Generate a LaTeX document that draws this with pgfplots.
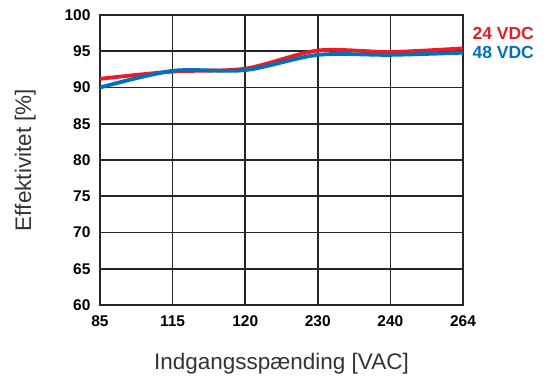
\documentclass[border=0pt]{standalone}
\usepackage{pgfplots}
\pgfplotsset{compat=1.18}
\usepackage{fontspec}
\setmainfont{Liberation Sans}
\usetikzlibrary{calc}
\definecolor{cred}{RGB}{237,28,36}
\definecolor{cblue}{RGB}{0,114,188}
\begin{document}
\begin{tikzpicture}
\begin{axis}[
  name=ax,
  scale only axis,
  width=363pt, height=290pt,
  xmin=0, xmax=5, ymin=60, ymax=100,
  xtick={0,1,2,3,4,5},
  xticklabels={85,115,120,230,240,264},
  ytick={60,65,...,100},
  grid=major,
  grid style={black!85, line width=1.6pt},
  axis line style={black!85, line width=1.8pt},
  major tick length=0pt,
  /pgf/number format/assume math mode=true,
  ticklabel style={font=\fontsize{15.5}{17}\selectfont\bfseries},
  xticklabel style={yshift=-7pt},
  yticklabel style={xshift=-6pt},
  xlabel={Indgangsspænding [VAC]},
  ylabel={Effektivitet [\%]},
  label style={font=\fontsize{22.5}{25}\selectfont, text=black!80},
  xlabel style={yshift=-20pt},
  ylabel style={yshift=22pt},
  clip=false,
]
\addplot[cred, line width=3.8pt, smooth, tension=0.5] coordinates {
  (0,91.2) (1,92.2) (2,92.6) (3,95.1) (4,94.9) (5,95.4)
};
\addplot[cblue, line width=3.8pt, smooth, tension=0.5] coordinates {
  (0,90.0) (1,92.3) (2,92.4) (3,94.5) (4,94.5) (5,94.8)
};
\node[anchor=west, xshift=6pt, text=cred, font=\fontsize{17.5}{19}\selectfont\bfseries] at (axis cs:5,97.4) {24 VDC};
\node[anchor=west, xshift=6pt, text=cblue, font=\fontsize{17.5}{19}\selectfont\bfseries] at (axis cs:5,94.9) {48 VDC};
\end{axis}
\path ($(ax.south west)+(-100pt,-78pt)$) rectangle ($(ax.north east)+(87pt,15pt)$);
\end{tikzpicture}
\end{document}
